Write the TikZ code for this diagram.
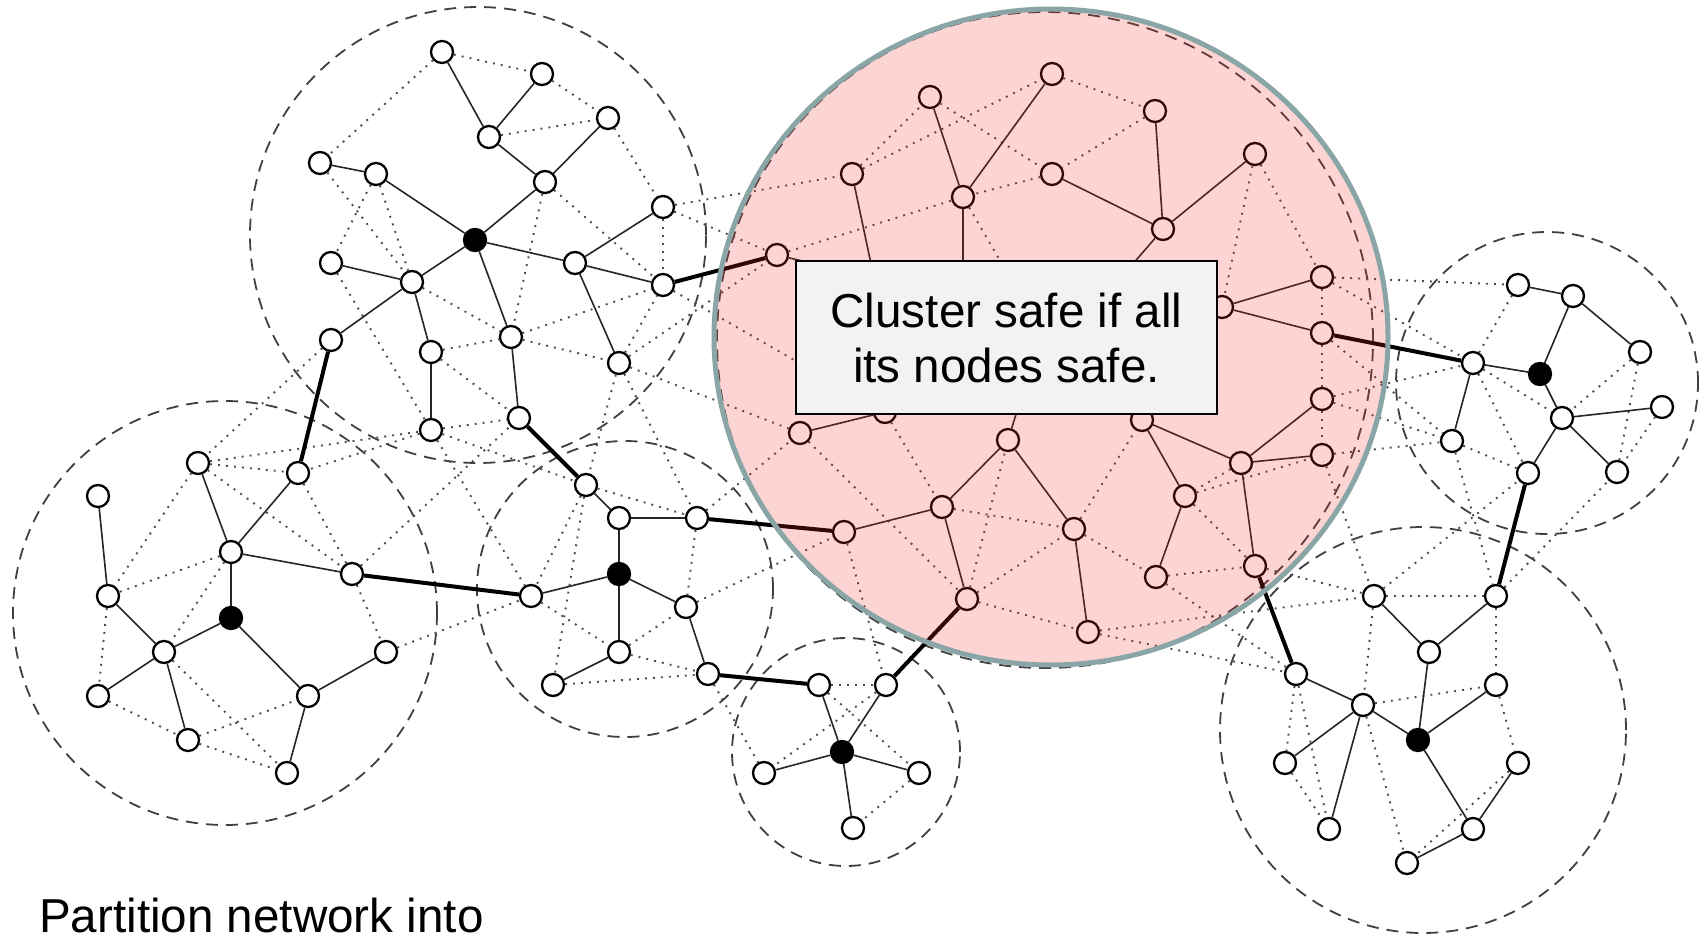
\documentclass[tikz,border=0pt]{standalone}
\usepackage{fontspec}
\setmainfont{Liberation Sans}
\pgfdeclarelayer{ringlayer}
\pgfdeclarelayer{linklayer}
\pgfdeclarelayer{toplayer}
\pgfsetlayers{ringlayer,linklayer,main,toplayer}
\definecolor{safefill}{RGB}{245,40,40}
\definecolor{safeedge}{RGB}{138,165,166}
\definecolor{notefill}{RGB}{242,242,242}
\tikzset{
  vtx/.style={circle, draw=black, line width=2.3pt, fill=white, inner sep=0pt, minimum size=22pt},
  hub/.style={vtx, fill=black},
  tree/.style={line width=1.6pt, draw=black!85},
  bridge/.style={line width=4pt, draw=black},
  link/.style={line width=1.9pt, draw=black!70, dash pattern=on 1.9pt off 6.1pt},
  ring/.style={line width=1.8pt, draw=black!75, dash pattern=on 12pt off 8pt},
  bigtext/.style={font=\fontsize{47.6}{55}\selectfont}
}
\begin{document}
\begin{tikzpicture}[x=1pt,y=-1pt]
\useasboundingbox (0,0) rectangle (1706,935);

% ---- cluster A
\node[vtx] (a1) at (442,52) {};
\node[vtx] (a2) at (542,74) {};
\node[vtx] (a3) at (489,137) {};
\node[vtx] (a4) at (608,118) {};
\node[vtx] (a5) at (545,182) {};
\node[vtx] (a6) at (320,163) {};
\node[vtx] (a7) at (376,174) {};
\node[vtx] (a8) at (331,263) {};
\node[vtx] (a9) at (412,282) {};
\node[hub] (a0) at (475,240) {};
\node[vtx] (a10) at (663,207) {};
\node[vtx] (a11) at (575,263) {};
\node[vtx] (a12) at (663,285) {};
\node[vtx] (a13) at (331,340) {};
\node[vtx] (a14) at (431,352) {};
\node[vtx] (a15) at (511,337) {};
\node[vtx] (a16) at (619,363) {};
\node[vtx] (a17) at (431,430) {};
\node[vtx] (a18) at (519,418) {};
% ---- cluster B
\node[vtx] (b1) at (198,463) {};
\node[vtx] (b2) at (298,473) {};
\node[vtx] (b3) at (98,496) {};
\node[vtx] (b4) at (231,552) {};
\node[vtx] (b5) at (352,574) {};
\node[vtx] (b6) at (108,596) {};
\node[hub] (b0) at (231,618) {};
\node[vtx] (b7) at (164,652) {};
\node[vtx] (b8) at (386,652) {};
\node[vtx] (b9) at (98,696) {};
\node[vtx] (b10) at (308,696) {};
\node[vtx] (b11) at (188,740) {};
\node[vtx] (b12) at (287,773) {};
% ---- cluster C
\node[vtx] (c1) at (586,485) {};
\node[vtx] (c2) at (619,518) {};
\node[vtx] (c3) at (697,518) {};
\node[hub] (c0) at (619,574) {};
\node[vtx] (c4) at (531,596) {};
\node[vtx] (c5) at (686,607) {};
\node[vtx] (c6) at (619,652) {};
\node[vtx] (c7) at (553,685) {};
\node[vtx] (c8) at (708,674) {};
% ---- cluster D
\node[vtx] (d1) at (819,685) {};
\node[vtx] (d2) at (886,685) {};
\node[hub] (d0) at (842,752) {};
\node[vtx] (d3) at (764,773) {};
\node[vtx] (d4) at (919,773) {};
\node[vtx] (d5) at (853,828) {};
% ---- cluster E
\node[vtx] (e1) at (1296,674) {};
\node[vtx] (e2) at (1374,596) {};
\node[vtx] (e3) at (1496,596) {};
\node[vtx] (e4) at (1429,652) {};
\node[vtx] (e5) at (1496,685) {};
\node[vtx] (e6) at (1363,705) {};
\node[hub] (e0) at (1418,740) {};
\node[vtx] (e7) at (1285,763) {};
\node[vtx] (e8) at (1518,763) {};
\node[vtx] (e9) at (1329,829) {};
\node[vtx] (e10) at (1473,829) {};
\node[vtx] (e11) at (1407,863) {};
% ---- cluster F
\node[vtx] (f1) at (1518,285) {};
\node[vtx] (f2) at (1573,296) {};
\node[vtx] (f3) at (1640,352) {};
\node[vtx] (f4) at (1473,363) {};
\node[hub] (f0) at (1540,374) {};
\node[vtx] (f5) at (1562,418) {};
\node[vtx] (f6) at (1662,407) {};
\node[vtx] (f7) at (1452,441) {};
\node[vtx] (f8) at (1528,473) {};
\node[vtx] (f9) at (1617,472) {};
% ---- safe cluster
\node[vtx] (p1) at (777,255) {};
\node[vtx] (p2) at (852,174) {};
\node[vtx] (p3) at (930,97) {};
\node[vtx] (p4) at (1052,74) {};
\node[vtx] (p5) at (1155,111) {};
\node[vtx] (p6) at (1052,174) {};
\node[vtx] (p7) at (963,197) {};
\node[vtx] (p8) at (1255,154) {};
\node[vtx] (p9) at (1163,229) {};
\node[vtx] (p10) at (1322,277) {};
\node[vtx] (p11) at (1322,333) {};
\node[vtx] (p12) at (1222,307) {};
\node[vtx] (p13) at (1322,399) {};
\node[vtx] (p14) at (1322,455) {};
\node[vtx] (p15) at (1241,463) {};
\node[vtx] (p16) at (1142,420) {};
\node[vtx] (p17) at (1008,440) {};
\node[vtx] (p18) at (885,412) {};
\node[vtx] (p19) at (800,433) {};
\node[vtx] (p20) at (942,507) {};
\node[vtx] (p21) at (844,532) {};
\node[vtx] (p22) at (1074,529) {};
\node[vtx] (p23) at (1185,496) {};
\node[vtx] (p24) at (1255,566) {};
\node[vtx] (p25) at (1156,577) {};
\node[vtx] (p26) at (967,599) {};
\node[vtx] (p27) at (1088,632) {};
\node[vtx] (h1) at (874,278) {};
\node[hub] (h2) at (963,300) {};
\node[vtx] (h3) at (1112,288) {};
\node[vtx] (h4) at (1028,376) {};
\node[vtx] (h5) at (1030,312) {};

% ---- white page and dashed cluster outlines
\begin{pgfonlayer}{ringlayer}
\fill[white] (0,0) rectangle (1706,935);
\draw[ring] (478,235) circle[radius=228pt];
\draw[ring] (225,613) circle[radius=212pt];
\draw[ring] (625,589) circle[radius=148pt];
\draw[ring] (846,752) circle[radius=114pt];
\draw[ring] (1423,730) circle[radius=203pt];
\draw[ring] (1547,383) circle[radius=151pt];
\draw[ring] (1045,340) circle[radius=328pt];
\end{pgfonlayer}

\begin{pgfonlayer}{linklayer}
% neighbour links (dotted)
\foreach \u/\v in {a1/a6,a1/a2,a2/a4,a3/a4,a4/a10,a6/a9,a7/a8,a7/a9,a8/a17,a13/b1,
  a5/a15,a5/a12,a10/a12,a10/p1,a10/p2,a15/a12,a15/a16,a16/a12,a16/p19,a16/c1,a16/c3,
  a12/p18,a14/a18,a17/a18,a17/b2,b1/a17,b5/a18,a9/a15,a14/a15,a16/p1,a17/c4,a17/c1,
  b1/b2,b1/b6,b1/b5,b2/b5,b4/b6,b4/b7,b6/b9,b7/b12,b9/b11,b11/b10,b11/b12,b5/b8,b8/c4,
  c1/c4,c1/c7,c4/c6,c7/c8,c6/c8,c6/c5,c3/c5,c5/p21,c1/c3,c3/p19,c8/d3,
  d1/d2,d1/d4,d4/d5,d2/d3,p21/d2,
  p2/p3,p2/p4,p3/p6,p4/p5,p5/p6,p6/p7,p1/p7,p8/p10,p8/p12,p10/p11,p11/p13,p13/p14,
  p19/p26,p18/p20,p20/p22,p26/p17,p26/p22,p26/p27,p22/p25,p22/p16,p23/p24,p25/p24,
  p15/p23,p23/p14,p7/h5,h1/h2,h2/h4,
  p25/e1,p27/e1,p27/e2,p24/e2,p14/e2,e2/f8,f7/e3,e3/f9,p10/f1,p10/f4,p11/f7,p13/f4,
  p13/f7,p14/f7,
  e2/e3,e3/e5,e2/e6,e6/e5,e1/e7,e1/e9,e7/e9,e6/e11,e5/e8,e8/e11,
  f1/f4,f3/f5,f3/f9,f6/f9,f4/f5,f4/f8,f7/f8}
  \draw[link] (\u) -- (\v);
% spanning-tree edges
\foreach \u/\v in {a1/a3,a2/a3,a3/a5,a4/a5,a5/a0,a6/a7,a7/a0,a8/a9,a9/a0,a9/a13,a9/a14,
  a14/a17,a0/a15,a15/a18,a0/a11,a11/a10,a11/a12,a11/a16,
  b1/b4,b2/b4,b4/b5,b4/b0,b3/b6,b6/b7,b7/b0,b7/b9,b7/b11,b0/b10,b10/b8,b10/b12,
  c1/c2,c2/c3,c2/c0,c0/c4,c0/c5,c0/c6,c6/c7,c5/c8,
  d1/d0,d2/d0,d0/d3,d0/d4,d0/d5,
  e2/e4,e3/e4,e4/e0,e1/e6,e6/e0,e6/e7,e6/e9,e0/e5,e0/e10,e10/e8,e10/e11,
  f1/f2,f2/f0,f2/f3,f4/f0,f4/f7,f0/f5,f5/f6,f5/f8,f5/f9,
  p3/p7,p4/p7,p7/h2,p2/h1,p1/h1,p5/p9,p6/p9,p8/p9,p9/h3,p12/p10,p12/p11,p13/p15,
  p14/p15,p16/p15,p16/p23,p17/p20,p17/p22,p17/h4,p19/p18,p21/p20,p20/p26,p22/p27,
  p23/p25,p15/p24,h1/h2,h2/h3}
  \draw[tree] (\u) -- (\v);
% links between clusters
\foreach \u/\v in {a12/p1,a13/b2,a18/c1,b5/c4,c3/p21,c8/d1,d2/p26,p24/e1,e3/f8,p11/f4}
  \draw[bridge] (\u) -- (\v);
\end{pgfonlayer}

\node[bigtext, anchor=base west, inner sep=0pt] (caption) at (39,932) {Partition network into};

\begin{pgfonlayer}{toplayer}
\fill[safefill, fill opacity=0.2] (1051,337) ellipse[x radius=337pt, y radius=328pt];
\draw[safeedge, line width=5pt] (1051,337) ellipse[x radius=337pt, y radius=328pt];
\node[bigtext, draw=black, line width=2.2pt, fill=notefill, minimum width=421pt,
  minimum height=153pt, inner sep=0pt, align=center] (note) at (1006.5,337.5)
  {Cluster safe if all\\its nodes safe.};
\end{pgfonlayer}
\end{tikzpicture}
\end{document}
